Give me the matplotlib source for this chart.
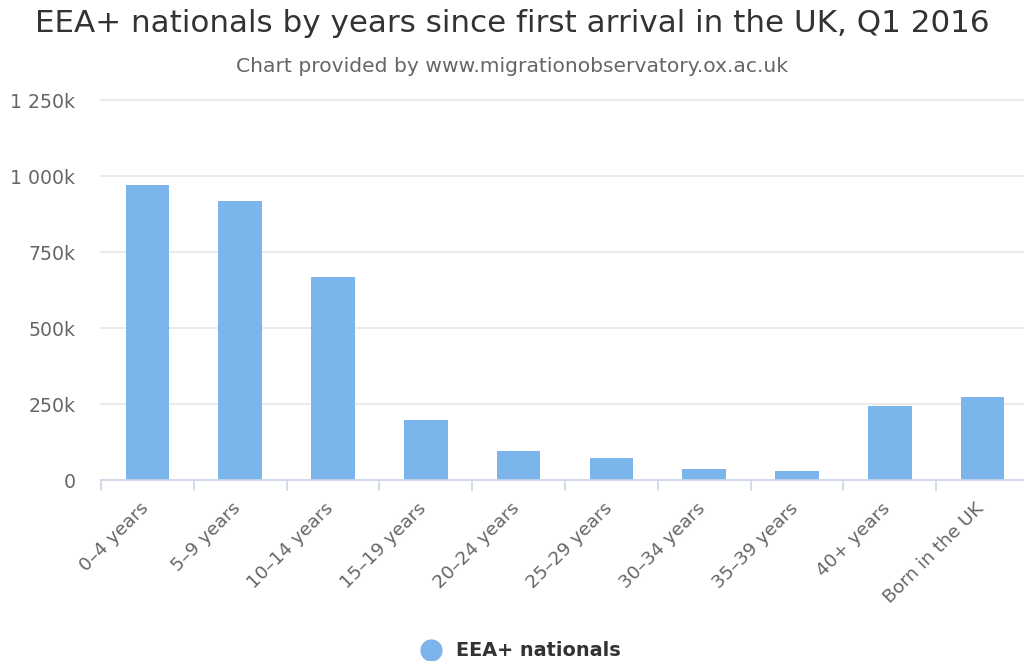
import matplotlib.pyplot as plt
import matplotlib.transforms as mtransforms
import numpy as np

categories = [
    "0–4 years", "5–9 years", "10–14 years", "15–19 years", "20–24 years",
    "25–29 years", "30–34 years", "35–39 years", "40+ years", "Born in the UK",
]
values_k = [972, 919, 668, 198, 94, 71, 35, 30, 242, 272]
y_ticks = [0, 250, 500, 750, 1000, 1250]
y_tick_labels = ["0", "250k", "500k", "750k", "1 000k", "1 250k"]

W, H = 1024, 661
fig = plt.figure(figsize=(W / 100, H / 100), dpi=100)
plt.rcParams["font.family"] = ["DejaVu Sans"]

# plot area in pixels: x 101..1029, y 100..480
ax = fig.add_axes([101 / W, (H - 480) / H, (1029 - 101) / W, 380 / H])

x = np.arange(len(categories))
ax.bar(x, values_k, width=0.47, color="#7cb5ec", zorder=2)

ax.set_xlim(-0.5, len(categories) - 0.5)
ax.set_ylim(0, 1250)

ax.set_yticks(y_ticks)
ax.set_yticklabels(y_tick_labels, fontsize=13.6, color="#666666")
ax.tick_params(axis="y", length=0, pad=18.5)
ax.yaxis.grid(True, color="#e6e6e6", linewidth=1.2, zorder=0)
for gl in ax.get_ygridlines():
    gl.set_clip_on(False)

ax.set_xticks(np.arange(len(categories) + 1) - 0.5)
ax.set_xticklabels([])
ax.tick_params(axis="x", which="major", length=8, color="#ccd6eb", width=1.2)
ax.set_xticks(x, minor=True)
ax.set_xticklabels(categories, minor=True, rotation=45, ha="right",
                   rotation_mode="anchor", fontsize=13.3, color="#666666")
ax.tick_params(axis="x", which="minor", length=0, pad=14)
shift = mtransforms.ScaledTranslation(-6 / 72, 0, fig.dpi_scale_trans)
for lbl in ax.get_xticklabels(minor=True):
    lbl.set_transform(lbl.get_transform() + shift)

for side in ["top", "right", "left"]:
    ax.spines[side].set_visible(False)
ax.spines["bottom"].set_color("#ccd6eb")
ax.spines["bottom"].set_linewidth(1.2)

fig.text(0.5, 1 - 24 / H, "EEA+ nationals by years since first arrival in the UK, Q1 2016",
         ha="center", va="center", fontsize=22.3, color="#333333")
fig.text(0.5, 1 - 66 / H, "Chart provided by www.migrationobservatory.ox.ac.uk",
         ha="center", va="center", fontsize=14.6, color="#666666")

ax.legend(handles=[plt.Line2D([], [], marker="o", linestyle="", markersize=15,
                              color="#7cb5ec", label="EEA+ nationals")],
          loc="center", bbox_to_anchor=(0.504, (H - 651) / H), bbox_transform=fig.transFigure,
          frameon=False, handletextpad=0.3,
          prop={"size": 13.9, "weight": "bold"}, labelcolor="#333333")

fig.savefig("out.png", dpi=100)
